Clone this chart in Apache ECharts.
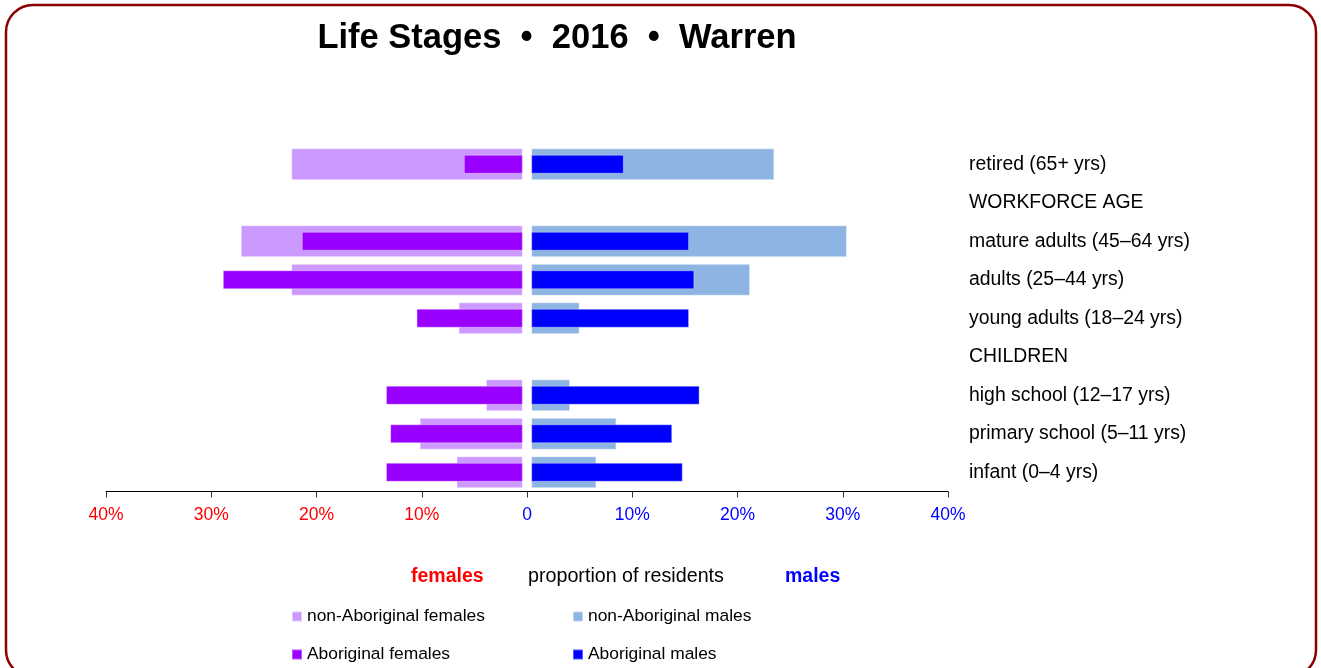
<!DOCTYPE html>
<html>
<head>
<meta charset="utf-8">
<script src="https://cdn.jsdelivr.net/npm/echarts@6/dist/echarts.min.js"></script>
<style>
  html, body { margin: 0; padding: 0; background: #fff; }
  #main { width: 1321px; height: 668px; }
</style>
</head>
<body>
<div id="main"></div>
<script>
// life stages, top to bottom (blank rows are section headings)
var categories = ['retired (65+ yrs)', 'WORKFORCE AGE', 'mature adults (45–64 yrs)', 'adults (25–44 yrs)',
  'young adults (18–24 yrs)', 'CHILDREN', 'high school (12–17 yrs)', 'primary school (5–11 yrs)', 'infant (0–4 yrs)'];

// % of residents in each group
var nonAborigFemales = [22.0, null, 26.8, 22.0, 6.1, null, 3.5, 9.8, 6.3];
var aborigFemales    = [5.6,  null, 21.0, 28.5, 10.1, null, 13.0, 12.6, 13.0];
var nonAborigMales   = [23.1, null, 30.0, 20.8, 4.6, null, 3.7, 8.1, 6.2];
var aborigMales      = [8.8,  null, 15.0, 15.5, 15.0, null, 16.0, 13.4, 14.4];

var axisMin = -40, axisMax = 40, axisStep = 10;
var centreGap = 0.4; // small gap either side of zero

var font = '"Liberation Sans", Arial, Helvetica, sans-serif';

function neg(arr) { return arr.map(function (v) { return v == null ? null : -v; }); }
function gapData(sign) { return categories.map(function () { return sign * centreGap; }); }

var hidden = {
  type: 'bar', silent: true, itemStyle: { color: 'transparent' },
  emphasis: { disabled: true }, tooltip: { show: false }
};

function legendItem(name, left, top) {
  return {
    data: [name], left: left, top: top, itemWidth: 10, itemHeight: 10, itemGap: 0,
    icon: 'rect', selectedMode: false, padding: 0,
    textStyle: { fontFamily: font, fontSize: 17.4, color: '#000', padding: [0, 0, 0, 0] }
  };
}

var myChart = echarts.init(document.getElementById('main'));

var option = {
  animation: false,
  backgroundColor: '#fff',
  graphic: [
    { type: 'rect', shape: { x: 6, y: 5, width: 1310, height: 672, r: 27 },
      style: { fill: 'none', stroke: '#8B0000', lineWidth: 2.5 }, silent: true },
    { type: 'text', x: 557, y: 38,
      style: { text: 'Life Stages  •  2016  •  Warren', font: 'bold 34.5px ' + font,
        fill: '#000', textAlign: 'center', textVerticalAlign: 'middle' } },
    { type: 'text', x: 411, y: 577,
      style: { text: 'females', font: 'bold 19.5px ' + font, fill: '#FF0000', textVerticalAlign: 'middle' } },
    { type: 'text', x: 528, y: 577,
      style: { text: 'proportion of residents', font: '19.7px ' + font, fill: '#000', textVerticalAlign: 'middle' } },
    { type: 'text', x: 785, y: 577,
      style: { text: 'males', font: 'bold 19.5px ' + font, fill: '#0000FF', textVerticalAlign: 'middle' } }
  ],
  legend: [
    legendItem('non-Aboriginal females', 291, 608),
    legendItem('Aboriginal females', 291, 646),
    legendItem('non-Aboriginal males', 572, 608),
    legendItem('Aboriginal males', 572, 646)
  ],
  grid: { left: 106, right: 373, top: 145, bottom: 176.5, containLabel: false },
  xAxis: {
    type: 'value', min: axisMin, max: axisMax, interval: axisStep,
    splitLine: { show: false },
    axisLine: { show: true, lineStyle: { color: '#000', width: 1 } },
    axisTick: { show: true, length: 6, lineStyle: { color: '#333' } },
    axisLabel: {
      margin: 15, fontFamily: font, fontSize: 17.5,
      color: function (v) { return Number(v) < 0 ? '#FF0000' : '#0000FF'; },
      formatter: function (v) { return v === 0 ? '0' : Math.abs(v) + '%'; }
    }
  },
  yAxis: [
    { type: 'category', data: categories, inverse: true, position: 'right',
      axisLine: { show: false }, axisTick: { show: false },
      axisLabel: { margin: 21, fontFamily: font, fontSize: 19.4, color: '#000' } },
    { type: 'category', data: categories, inverse: true, show: false }
  ],
  series: [
    echarts.util.extend({ name: 'gapL', yAxisIndex: 0, stack: 'wide', barWidth: 32, data: gapData(-1) }, hidden),
    echarts.util.extend({ name: 'gapR', yAxisIndex: 0, stack: 'wide', barWidth: 32, data: gapData(1) }, hidden),
    { name: 'non-Aboriginal females', type: 'bar', yAxisIndex: 0, stack: 'wide', barWidth: 32,
      data: neg(nonAborigFemales),
      itemStyle: { color: '#CC99FF', borderColor: 'rgba(255,255,255,0.45)', borderWidth: 1 } },
    { name: 'non-Aboriginal males', type: 'bar', yAxisIndex: 0, stack: 'wide', barWidth: 32,
      data: nonAborigMales,
      itemStyle: { color: '#8DB4E2', borderColor: 'rgba(255,255,255,0.45)', borderWidth: 1 } },

    echarts.util.extend({ name: 'gapL2', yAxisIndex: 1, stack: 'narrow', barWidth: 19, data: gapData(-1) }, hidden),
    echarts.util.extend({ name: 'gapR2', yAxisIndex: 1, stack: 'narrow', barWidth: 19, data: gapData(1) }, hidden),
    { name: 'Aboriginal females', type: 'bar', yAxisIndex: 1, stack: 'narrow', barWidth: 19,
      data: neg(aborigFemales),
      itemStyle: { color: '#9900FF', borderColor: 'rgba(255,255,255,0.35)', borderWidth: 1 } },
    { name: 'Aboriginal males', type: 'bar', yAxisIndex: 1, stack: 'narrow', barWidth: 19,
      data: aborigMales,
      itemStyle: { color: '#0000FF', borderColor: 'rgba(255,255,255,0.35)', borderWidth: 1 } }
  ]
};

myChart.setOption(option);
</script>
</body>
</html>
